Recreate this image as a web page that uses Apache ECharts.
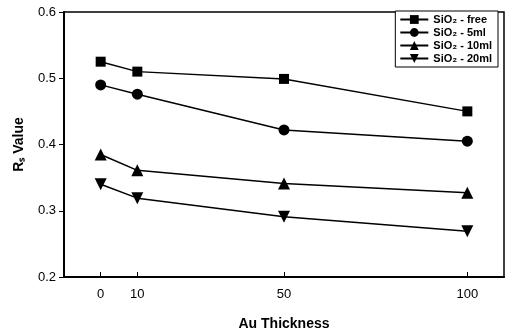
<!DOCTYPE html>
<html><head><meta charset="utf-8">
<script src="https://cdn.jsdelivr.net/npm/echarts@6/dist/echarts.min.js"></script>
<style>html,body{margin:0;padding:0;background:#fff}#c{width:505px;height:336px}</style>
</head><body><div id="c"></div>
<script>
const thickness = [0, 10, 50, 100];
const seriesNames = ['SiO₂ - free', 'SiO₂ - 5ml', 'SiO₂ - 10ml', 'SiO₂ - 20ml'];
const free = [0.525, 0.510, 0.499, 0.450];
const ml5 = [0.490, 0.476, 0.422, 0.405];
const ml10 = [0.385, 0.361, 0.341, 0.327];
const ml20 = [0.340, 0.319, 0.291, 0.269];
const xTicks = [0, 10, 50, 100];
const symbols = ['rect', 'circle', 'triangle', 'path://M0,0 L10,0 L5,9 Z'];
const values = [free, ml5, ml10, ml20];

const chart = echarts.init(document.getElementById('c'));
const font = 'Liberation Sans, Arial, sans-serif';
chart.setOption({
  animation: false,
  grid: {left: 64, right: 1, top: 12, bottom: 57, show: true, borderColor: '#000', borderWidth: 1.5, backgroundColor: 'transparent'},
  legend: {
    right: 7, top: 11, orient: 'vertical', itemGap: 2, itemWidth: 28, itemHeight: 11,
    padding: [3, 6, 3, 4],
    borderColor: '#000', borderWidth: 1, backgroundColor: '#fff',
    textStyle: {fontFamily: font, fontSize: 11, fontWeight: 'bold', color: '#000'},
    data: seriesNames
  },
  xAxis: {
    type: 'value', min: -10, max: 110,
    name: 'Au Thickness', nameLocation: 'middle', nameGap: 40,
    nameTextStyle: {fontFamily: font, fontSize: 14, fontWeight: 'bold', color: '#000'},
    axisLine: {onZero: false, lineStyle: {color: '#000', width: 2}},
    axisTick: {show: true, inside: true, length: 5, customValues: xTicks, lineStyle: {color: '#000'}},
    axisLabel: {customValues: xTicks, fontFamily: font, fontSize: 13, color: '#000', margin: 11},
    splitLine: {show: false}
  },
  yAxis: {
    type: 'value', min: 0.2, max: 0.6, interval: 0.1,
    name: 'Rₛ Value', nameLocation: 'middle', nameGap: 38, nameRotate: 90,
    nameTextStyle: {fontFamily: font, fontSize: 14, fontWeight: 'bold', color: '#000'},
    axisLine: {show: true, onZero: false, lineStyle: {color: '#000', width: 2}},
    axisTick: {show: true, length: 5, lineStyle: {color: '#000'}},
    axisLabel: {fontFamily: font, fontSize: 13, color: '#000', margin: 8, formatter: v => v.toFixed(1)},
    splitLine: {show: false}
  },
  series: values.map((vals, i) => ({
    name: seriesNames[i], type: 'line',
    data: thickness.map((t, j) => [t, vals[j]]),
    symbol: symbols[i], symbolSize: i === 0 ? 10 : (i === 1 ? 11 : 12),
    itemStyle: {color: '#000'},
    lineStyle: {color: '#000', width: 1.5}
  }))
});
</script></body></html>
